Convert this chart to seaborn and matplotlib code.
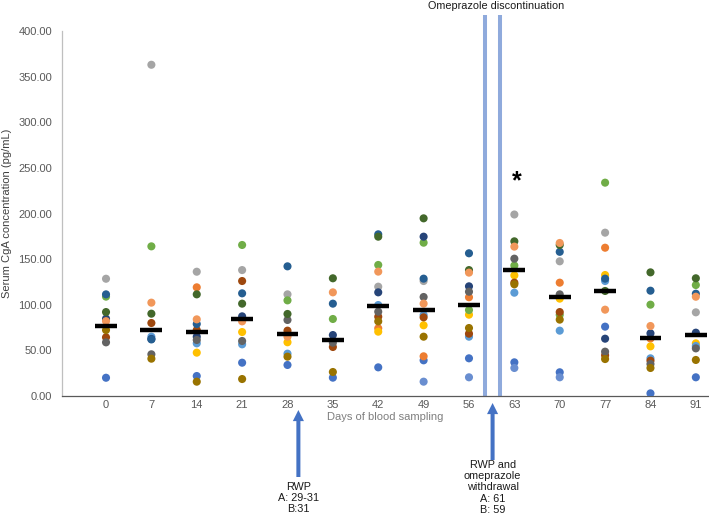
import numpy as np
import pandas as pd
import seaborn as sns
import matplotlib
matplotlib.use("Agg")
import matplotlib.pyplot as plt
from matplotlib.ticker import FormatStrFormatter

nan = np.nan
days = [0, 7, 14, 21, 28, 35, 42, 49, 56, 63, 70, 77, 84, 91]

blue       = [20.0, nan, 21.9, 36.5, 34.0, 20.1, 31.4, 39.1, 41.3, 36.9, 26.0, 76.0, 2.9, 20.5]
periwinkle = [nan, nan, nan, nan, nan, nan, nan, 15.7, 20.5, 30.7, 20.5, nan, nan, nan]
orange     = [nan, nan, 119.1, nan, nan, nan, 74.2, 43.5, 108.2, nan, 124.2, 162.5, 63.0, nan]
gray       = [128.5, 363.0, 136.2, 138.0, 111.4, nan, 119.8, 126.0, nan, 198.9, 147.6, 179.0, nan, 91.7]
gold       = [nan, nan, 47.5, 70.1, 58.9, nan, 70.5, 77.5, 89.1, 132.2, 106.7, 132.6, 54.4, 57.7]
skyblue    = [nan, 65.0, 57.7, 56.6, 46.4, nan, 99.7, 88.8, 65.0, 113.2, 71.6, 126.0, 41.3, 54.8]
green      = [108.9, 164.0, nan, 165.5, 104.8, 84.4, 143.6, 168.0, 94.2, 143.0, 89.0, 233.8, 100.1, 121.6]
navy       = [84.7, 62.5, 65.0, 87.3, nan, 66.8, 113.6, 174.6, 120.2, nan, nan, 62.8, 68.7, 69.4]
brown      = [64.3, 80.0, 72.3, 126.0, 71.6, 53.7, 86.9, 86.2, 68.3, 124.2, 92.0, 44.6, 38.7, nan]
darkgray   = [58.8, 45.7, 61.4, 60.3, 83.3, 58.4, 92.4, 108.5, 114.3, 150.5, 111.4, 48.6, 35.0, 52.2]
olive      = [72.3, 40.9, 15.7, 18.6, 43.1, 26.3, 81.8, 65.0, 74.5, 122.4, 83.7, 40.5, 30.7, 39.5]
steel      = [111.4, 62.0, 78.9, 112.5, 142.1, 101.2, 177.2, 128.6, 156.4, nan, 158.0, 128.6, 115.4, 112.1]
darkgreen  = [92.0, 90.2, 111.4, 101.2, 89.9, 129.0, 174.6, 194.7, 138.0, 169.5, 165.5, 115.1, 135.5, 129.0]
lightorange = [82.0, 102.3, 84.0, 81.8, 65.0, 113.6, 136.3, 101.2, 135.2, 163.7, 167.7, 94.6, 76.7, 108.8]

medians = [77.0, 72.0, 70.5, 84.7, 67.6, 61.2, 98.3, 94.2, 100.0, 138.0, 108.8, 114.7, 63.9, 66.5]

series = {
    "blue": blue, "periwinkle": periwinkle, "orange": orange, "gray": gray,
    "gold": gold, "skyblue": skyblue, "green": green, "navy": navy,
    "brown": brown, "darkgray": darkgray, "olive": olive, "steel": steel,
    "darkgreen": darkgreen, "lightorange": lightorange,
}
palette = {
    "blue": "#4472C4", "periwinkle": "#698ED0", "orange": "#ED7D31", "gray": "#A5A5A5",
    "gold": "#FFC000", "skyblue": "#5B9BD5", "green": "#70AD47", "navy": "#264478",
    "brown": "#9E480E", "darkgray": "#636363", "olive": "#997300", "steel": "#255E91",
    "darkgreen": "#43682B", "lightorange": "#F1975A",
}

rows = []
for name, vals in series.items():
    for i, v in enumerate(vals):
        if not np.isnan(v):
            rows.append({"dog": name, "pos": i, "value": v})
df = pd.DataFrame(rows)

sns.set_style("white")
plt.rcParams["font.family"] = ["Liberation Sans", "DejaVu Sans"]

W, H = 709, 518
fig = plt.figure(figsize=(W / 100, H / 100), dpi=100)
ax = fig.add_axes([62 / W, 122 / H, 647 / W, 365 / H])

sns.scatterplot(data=df, x="pos", y="value", hue="dog", palette=palette, s=34,
                linewidth=0, legend=False, ax=ax, zorder=3)

pos = np.arange(len(days))
ax.hlines(medians, pos - 0.24, pos + 0.24, color="black", lw=3.2, zorder=4)

ax.set_xlim(-0.97, 13.29)
ax.set_ylim(0, 400)
ax.set_xticks(pos)
ax.set_xticklabels([str(d) for d in days])
ax.set_yticks(np.arange(0, 401, 50))
ax.yaxis.set_major_formatter(FormatStrFormatter("%.2f"))
ax.tick_params(axis="both", length=0, labelsize=8, colors="#595959")
ax.tick_params(axis="y", pad=7)
ax.tick_params(axis="x", pad=3)

for s in ["top", "right"]:
    ax.spines[s].set_visible(False)
ax.spines["left"].set_color("#BFBFBF")
ax.spines["left"].set_linewidth(0.9)
ax.spines["bottom"].set_color("#595959")
ax.spines["bottom"].set_linewidth(0.9)

ax.set_xlabel("Days of blood sampling", fontsize=8, color="#7F7F7F", labelpad=1)
ax.set_ylabel("Serum CgA concentration (pg/mL)", fontsize=8, color="#404040", labelpad=5)

# omeprazole discontinuation double line
for xl in (8.35, 8.69):
    ax.plot([xl, xl], [0, 417.5], color="#8FAADC", lw=2.9, clip_on=False, zorder=2,
            solid_capstyle="butt")
ax.text(8.60, 427, "Omeprazole discontinuation", ha="center", va="center",
        fontsize=7.8, color="#1A1A1A", clip_on=False)

# significance asterisk
ax.text(9.05, 235, "*", ha="center", va="center", fontsize=18, fontweight="bold",
        color="black")

def ypx(p):
    return (396 - p) / 0.9125

arrow_kw = dict(facecolor="#4472C4", edgecolor="none", width=2.9, headwidth=8,
                headlength=8, shrink=0.0)
ax.annotate("", xy=(4.24, ypx(410)), xytext=(4.24, ypx(477)),
            arrowprops=arrow_kw, annotation_clip=False)
ax.annotate("", xy=(8.52, ypx(403)), xytext=(8.52, ypx(460)),
            arrowprops=arrow_kw, annotation_clip=False)

ax.text(4.24, ypx(482), "RWP\nA: 29-31\nB:31", ha="center", va="top",
        fontsize=7.8, color="#1A1A1A", linespacing=1.1, clip_on=False)
ax.text(8.52, ypx(460), "RWP and\nomeprazole\nwithdrawal\nA: 61\nB: 59", ha="center",
        va="top", fontsize=7.8, color="#1A1A1A", linespacing=1.15, clip_on=False)

fig.savefig("out.png", dpi=100)
